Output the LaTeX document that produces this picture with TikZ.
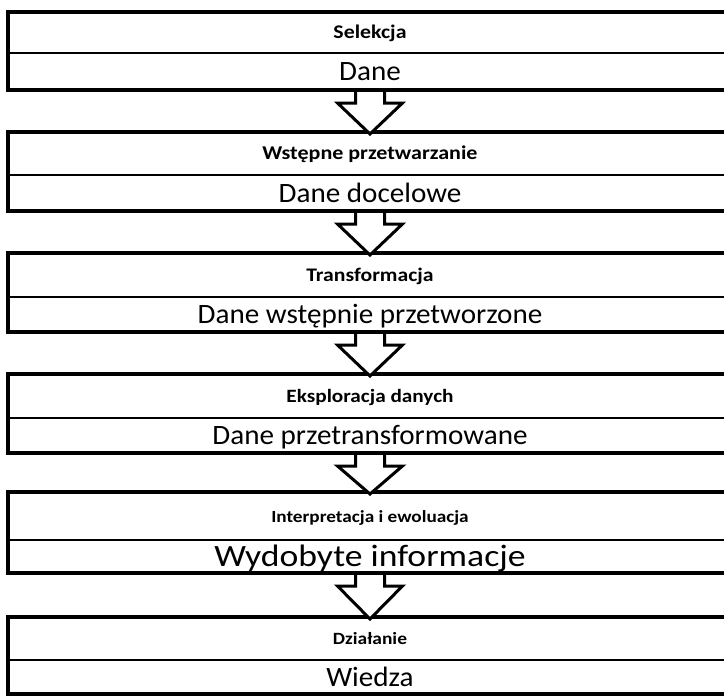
\documentclass[tikz,border=0pt]{standalone}
\usepackage{fontspec}
\setmainfont{Carlito}
\usetikzlibrary{calc}

% stage title (bold, small) and stage result (regular, large)
\newcommand{\stagetitle}[2]{\scalebox{1.13}[1]{\fontsize{#1}{#1}\selectfont\bfseries #2}}
\newcommand{\stageresult}[3][28]{\scalebox{#2}[1]{\fontsize{#1}{#1}\selectfont #3}}

\tikzset{
  stagebox/.style={draw, line width=4pt, minimum width=724pt, anchor=north west,
                   inner sep=0pt, outer sep=0pt},
  divider/.style={line width=2pt},
  label/.style={anchor=base, inner sep=0pt},
  flowarrow/.style={draw, fill=white, line width=3pt, line join=miter},
}

\begin{document}
\begin{tikzpicture}[x=1pt, y=-1pt]
\useasboundingbox (0,0) rectangle (724,696);
\clip (0,0) rectangle (724,696);

% boxes: top edge, divider, bottom edge
\foreach \n/\t/\d/\b in {1/12/53/90, 2/132/175/211, 3/253/297/332,
                         4/374/418/453, 5/492/540/573, 6/617/660/694} {
  \pgfmathsetmacro{\h}{\b-\t}
  \node[stagebox, minimum height=\h pt] (b\n) at (8,\t) {};
  \draw[divider] (8,\d) -- (732,\d);
}

% titles
\node[label] (t1) at (370,38.5)  {\stagetitle{19.3}{Selekcja}};
\node[label] (t2) at (370,159.5) {\stagetitle{19.5}{Wstępne przetwarzanie}};
\node[label] (t3) at (370,281)   {\stagetitle{19.2}{Transformacja}};
\node[label] (t4) at (370,402)   {\stagetitle{18.8}{Eksploracja danych}};
\node[label] (t5) at (370,522)   {\stagetitle{17}{Interpretacja i ewoluacja}};
\node[label] (t6) at (370,644.5) {\stagetitle{17.2}{Działanie}};

% results
\node[label] (r1) at (370,80.5)  {\stageresult{1.04}{Dane}};
\node[label] (r2) at (370,202)   {\stageresult{1.04}{Dane docelowe}};
\node[label] (r3) at (370,323.5) {\stageresult{1.04}{Dane wstępnie przetworzone}};
\node[label] (r4) at (370,444.5) {\stageresult{1.04}{Dane przetransformowane}};
\node[label] (r5) at (370,566.5) {\stageresult[31]{1.15}{Wydobyte informacje}};
\node[label] (r6) at (370,686)   {\stageresult{1.04}{Wiedza}};

% block arrows between consecutive boxes
\foreach \a/\z in {1/2, 2/3, 3/4, 4/5, 5/6} {
  \draw[flowarrow]
    ($(b\a.south)+(-14.5,2)$) -- ($(b\a.south)+(-14.5,13)$)
    -- ($(b\a.south)+(-32.5,13)$) -- ($(b\z.north)+(0,2)$)
    -- ($(b\a.south)+(32.5,13)$) -- ($(b\a.south)+(14.5,13)$)
    -- ($(b\a.south)+(14.5,2)$);
}
\end{tikzpicture}
\end{document}
